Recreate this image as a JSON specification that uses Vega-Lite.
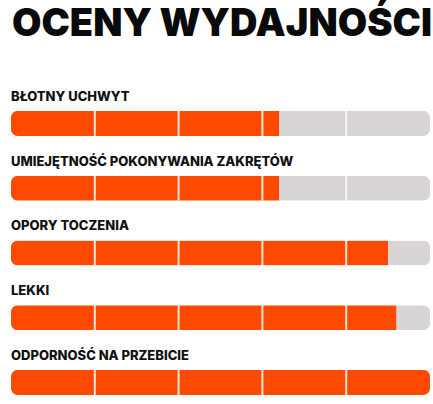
{
  "$schema": "https://vega.github.io/schema/vega-lite/v6.json",
  "width": 419,
  "height": {"step": 64.75},
  "padding": {"left": 11, "top": 6, "right": 3, "bottom": 0},
  "background": "white",
  "title": {"text": "OCENY WYDAJNOŚCI", "anchor": "start", "fontSize": 38, "font": "Inter", "fontWeight": 900, "color": "#0a0a0a", "offset": 38, "dx": 1},
  "datasets": {
    "ratings": [
      {"cat": "BŁOTNY UCHWYT", "v": 3.2, "max": 5},
      {"cat": "UMIEJĘTNOŚĆ POKONYWANIA ZAKRĘTÓW", "v": 3.2, "max": 5},
      {"cat": "OPORY TOCZENIA", "v": 4.5, "max": 5},
      {"cat": "LEKKI", "v": 4.6, "max": 5},
      {"cat": "ODPORNOŚĆ NA PRZEBICIE", "v": 5, "max": 5}
    ],
    "dividers": [
      {"cat": "BŁOTNY UCHWYT", "d": 1}, {"cat": "BŁOTNY UCHWYT", "d": 2}, {"cat": "BŁOTNY UCHWYT", "d": 3}, {"cat": "BŁOTNY UCHWYT", "d": 4},
      {"cat": "UMIEJĘTNOŚĆ POKONYWANIA ZAKRĘTÓW", "d": 1}, {"cat": "UMIEJĘTNOŚĆ POKONYWANIA ZAKRĘTÓW", "d": 2}, {"cat": "UMIEJĘTNOŚĆ POKONYWANIA ZAKRĘTÓW", "d": 3}, {"cat": "UMIEJĘTNOŚĆ POKONYWANIA ZAKRĘTÓW", "d": 4},
      {"cat": "OPORY TOCZENIA", "d": 1}, {"cat": "OPORY TOCZENIA", "d": 2}, {"cat": "OPORY TOCZENIA", "d": 3}, {"cat": "OPORY TOCZENIA", "d": 4},
      {"cat": "LEKKI", "d": 1}, {"cat": "LEKKI", "d": 2}, {"cat": "LEKKI", "d": 3}, {"cat": "LEKKI", "d": 4},
      {"cat": "ODPORNOŚĆ NA PRZEBICIE", "d": 1}, {"cat": "ODPORNOŚĆ NA PRZEBICIE", "d": 2}, {"cat": "ODPORNOŚĆ NA PRZEBICIE", "d": 3}, {"cat": "ODPORNOŚĆ NA PRZEBICIE", "d": 4}
    ]
  },
  "data": {"name": "ratings"},
  "config": {"view": {"stroke": null}},
  "layer": [
    {
      "mark": {"type": "bar", "size": 25, "yOffset": 9, "color": "#d8d5d4", "cornerRadius": 7},
      "encoding": {
        "y": {"field": "cat", "type": "nominal", "sort": null, "axis": null, "scale": {"paddingInner": 0, "paddingOuter": 0}},
        "x": {"field": "max", "type": "quantitative", "scale": {"domain": [0, 5]}, "axis": null}
      }
    },
    {
      "transform": [{"filter": "datum.v < 5"}],
      "mark": {"type": "bar", "size": 25, "yOffset": 9, "color": "#fe4a01", "cornerRadiusTopLeft": 7, "cornerRadiusBottomLeft": 7},
      "encoding": {
        "y": {"field": "cat", "type": "nominal", "sort": null},
        "x": {"field": "v", "type": "quantitative"}
      }
    },
    {
      "transform": [{"filter": "datum.v >= 5"}],
      "mark": {"type": "bar", "size": 25, "yOffset": 9, "color": "#fe4a01", "cornerRadius": 7},
      "encoding": {
        "y": {"field": "cat", "type": "nominal", "sort": null},
        "x": {"field": "v", "type": "quantitative"}
      }
    },
    {
      "data": {"name": "dividers"},
      "mark": {"type": "tick", "size": 25, "thickness": 2, "yOffset": 9, "color": "#ffffff", "opacity": 0.85},
      "encoding": {
        "y": {"field": "cat", "type": "nominal", "sort": null},
        "x": {"field": "d", "type": "quantitative"}
      }
    },
    {
      "mark": {"type": "text", "align": "left", "baseline": "alphabetic", "dy": -13.5, "font": "Inter", "fontSize": 13, "fontWeight": 800, "color": "#111111"},
      "encoding": {
        "y": {"field": "cat", "type": "nominal", "sort": null},
        "x": {"datum": 0, "type": "quantitative"},
        "text": {"field": "cat"}
      }
    }
  ]
}
